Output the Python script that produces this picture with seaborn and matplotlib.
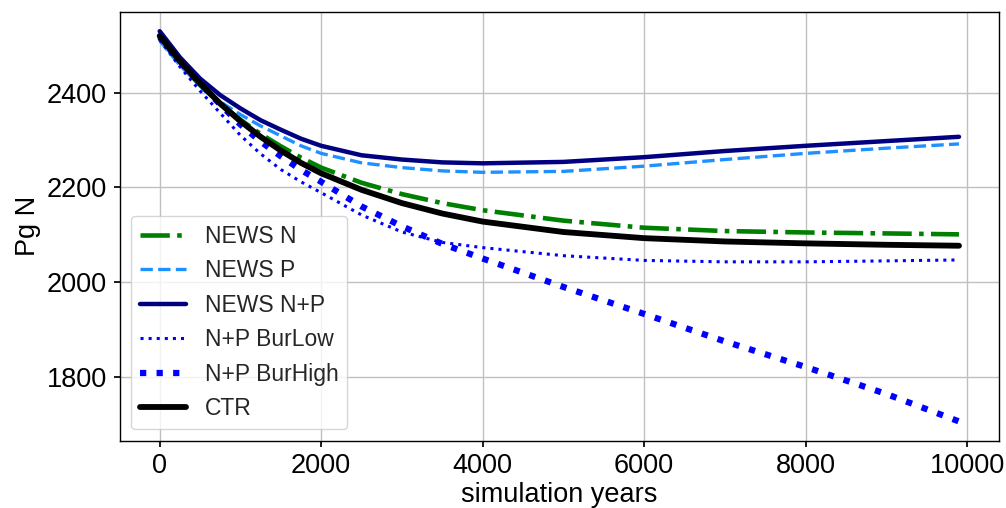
import numpy as np
import pandas as pd
import matplotlib.pyplot as plt
import seaborn as sns

# simulation years
years = [0, 250, 500, 750, 1000, 1250, 1500, 1750, 2000, 2500, 3000, 3500,
         4000, 5000, 6000, 7000, 8000, 9000, 9900]

news_n = [2515, 2462, 2416, 2377, 2343, 2313, 2287, 2263, 2242, 2210, 2186,
          2167, 2152, 2130, 2115, 2108, 2105, 2103, 2101]
news_p = [2510, 2458, 2415, 2381, 2354, 2330, 2309, 2288, 2272, 2252, 2242,
          2235, 2232, 2234, 2245, 2259, 2272, 2283, 2292]
news_np = [2530, 2475, 2430, 2395, 2367, 2342, 2322, 2303, 2288, 2268, 2259,
           2253, 2251, 2254, 2264, 2277, 2288, 2298, 2307]
bur_low = [2512, 2455, 2404, 2357, 2310, 2271, 2238, 2212, 2189, 2142, 2106,
           2084, 2073, 2056, 2046, 2043, 2043, 2045, 2047]
bur_high = [2518, 2466, 2420, 2375, 2333, 2297, 2266, 2237, 2212, 2160, 2118,
            2081, 2050, 1990, 1933, 1875, 1821, 1764, 1706]
ctr = [2520, 2467, 2420, 2377, 2340, 2307, 2278, 2252, 2230, 2195, 2167,
       2145, 2128, 2106, 2093, 2086, 2082, 2079, 2077]

sns.set_theme(style="ticks", rc={"axes.grid": True})
plt.rcParams['font.family'] = ['Liberation Sans', 'DejaVu Sans']
plt.rcParams['axes.edgecolor'] = 'black'
plt.rcParams['grid.color'] = '#c0c0c0'

fig = plt.figure(figsize=(10.06, 5.08), dpi=100)
ax = fig.add_subplot(111)
fig.subplots_adjust(left=0.119, right=0.993, top=0.977, bottom=0.132)

series = [
    ('NEWS N', news_n, 'green', '-.', 3.3),
    ('NEWS P', news_p, 'dodgerblue', '--', 2.4),
    ('NEWS N+P', news_np, 'navy', '-', 3.2),
    ('N+P BurLow', bur_low, 'blue', ':', 2.2),
    ('N+P BurHigh', bur_high, 'blue', ':', 4.5),
    ('CTR', ctr, 'black', '-', 4.2),
]

for label, vals, color, ls, lw in series:
    sns.lineplot(x=years, y=vals, ax=ax, color=color, linestyle=ls,
                 linewidth=lw, label=label)

ax.set_xlabel('simulation years', fontsize=19.5, color='black', labelpad=2)
ax.set_ylabel('Pg N', fontsize=19.5, color='black')
ax.tick_params(axis='both', labelsize=19.5, colors='black', length=4, pad=5)
ax.set_yticks([1800, 2000, 2200, 2400])
ax.set_xticks([0, 2000, 4000, 6000, 8000, 10000])
for sp in ax.spines.values():
    sp.set_color('black')
    sp.set_linewidth(1)

ax.legend(loc='lower left', fontsize=16.5, frameon=True, labelspacing=0.5)

plt.savefig('out.png', dpi=100)
